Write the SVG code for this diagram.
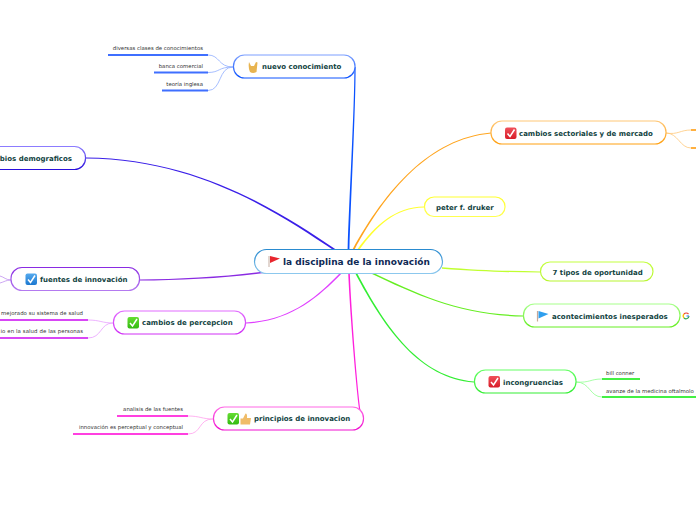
<svg xmlns="http://www.w3.org/2000/svg" width="696" height="520" viewBox="0 0 696 520">
<style>
.n{fill:#fff;stroke-width:1.2}
.t{font-family:"DejaVu Sans",sans-serif;font-weight:700;font-size:7px;fill:#12433f}
.c{font-family:"DejaVu Sans",sans-serif;font-weight:700;font-size:9px;fill:#0f2a55}
.l{font-family:"DejaVu Sans",sans-serif;font-size:5.4px;fill:#333}
.s{fill:none;stroke-width:.8}
.b{fill:none;stroke-width:2}
.ck{fill:none;stroke:#fff;stroke-width:1.5}
</style>
<defs>
<linearGradient id="gc" x1="0" y1="0" x2="0" y2="1"><stop offset="0" stop-color="#2a8bd0"/><stop offset="1" stop-color="#8cc8ee"/></linearGradient>
<linearGradient id="g1" x1="0" y1="0" x2="0" y2="1"><stop offset="0" stop-color="#7da0ff"/><stop offset="1" stop-color="#0b52ff"/></linearGradient>
<linearGradient id="g2" x1="0" y1="0" x2="0" y2="1"><stop offset="0" stop-color="#8c7cff"/><stop offset="1" stop-color="#2a0fdc"/></linearGradient>
<linearGradient id="g3" x1="0" y1="0" x2="0" y2="1"><stop offset="0" stop-color="#8a2be2"/><stop offset="1" stop-color="#b47af0"/></linearGradient>
<linearGradient id="g4" x1="0" y1="0" x2="0" y2="1"><stop offset="0" stop-color="#e26cff"/><stop offset="1" stop-color="#d030f5"/></linearGradient>
<linearGradient id="g5" x1="0" y1="0" x2="0" y2="1"><stop offset="0" stop-color="#ff6ae6"/><stop offset="1" stop-color="#f010d0"/></linearGradient>
<linearGradient id="g6" x1="0" y1="0" x2="0" y2="1"><stop offset="0" stop-color="#ffc878"/><stop offset="1" stop-color="#ffa010"/></linearGradient>
<linearGradient id="g7" x1="0" y1="0" x2="0" y2="1"><stop offset="0" stop-color="#ffff30"/><stop offset="1" stop-color="#ffff50"/></linearGradient>
<linearGradient id="g8" x1="0" y1="0" x2="0" y2="1"><stop offset="0" stop-color="#c4ff40"/><stop offset="1" stop-color="#b8f530"/></linearGradient>
<linearGradient id="g9" x1="0" y1="0" x2="0" y2="1"><stop offset="0" stop-color="#a8ff8c"/><stop offset="1" stop-color="#66ee22"/></linearGradient>
<linearGradient id="g10" x1="0" y1="0" x2="0" y2="1"><stop offset="0" stop-color="#66ff66"/><stop offset="1" stop-color="#33ee33"/></linearGradient>
<linearGradient id="red" x1="0" y1="0" x2="0" y2="1"><stop offset="0" stop-color="#f0505a"/><stop offset="1" stop-color="#d81c28"/></linearGradient>
<linearGradient id="grn" x1="0" y1="0" x2="0" y2="1"><stop offset="0" stop-color="#66dd33"/><stop offset="1" stop-color="#33bb11"/></linearGradient>
<linearGradient id="blu" x1="0" y1="0" x2="0" y2="1"><stop offset="0" stop-color="#55aaee"/><stop offset="1" stop-color="#1c78d0"/></linearGradient>
</defs>
<g id="connectors">
<path fill="#0b52ff" d="M354.400,67 C354.400,110 349,200 347.600,250 L349.400,250 C350.800,200 355.600,110 355.600,67Z"/>
<path fill="#3a1fe8" d="M86,157.400 C200,158.400 281.500,213.200 335.500,249.200 L334.500,250.800 C280.500,214.800 200,159.600 86,158.600Z"/>
<path fill="#8a2be2" d="M140,279.400 C180,279.400 230,276.300 266,271.200 L266,272.800 C230,277.700 180,280.600 140,280.600Z"/>
<path fill="#e040ff" d="M246,322.400 C290,319.900 315.500,298.500 341.400,271.400 L342.600,272.600 C316.500,299.500 290,321.100 246,323.600Z"/>
<path fill="#ff20dc" d="M359.400,410 C356.900,395 350.300,320 348.200,273 L349.800,273 C351.700,320 358.100,395 360.600,410Z"/>
<path fill="#ffa51e" d="M491,132.400 C430,137.900 385.400,189.600 352.500,249.600 L354.100,250.400 C386.600,190.400 430,139.100 491,133.600Z"/>
<path fill="#ffff30" d="M424,206.400 C395,206.900 375.400,225.100 357.200,249.400 L358.800,250.600 C376.600,225.900 395,208.100 424,207.600Z"/>
<path fill="#c0ff30" d="M540,271.400 C510,271.100 480,270.300 442,267.200 L442,268.800 C480,271.700 510,272.300 540,272.600Z"/>
<path fill="#66ee22" d="M523,315.400 C460,313.900 420.300,295.400 370.100,271.200 L369.300,272.800 C419.700,296.600 460,315.100 523,316.600Z"/>
<path fill="#33ee33" d="M474,381.400 C420,376.900 386.600,329.500 356.100,271.200 L354.500,272 C385.400,330.500 420,378.100 474,382.600Z"/>
<g stroke="#8fadff" class="s"><path d="M208,55 C220,55 218,67 233,67"/><path d="M208,72.500 C220,72.500 218,67 233,67"/><path d="M208,90.500 C222,90.500 218,67 233,67"/></g>
<g stroke="#3f6fff" class="b"><path d="M108,55H208"/><path d="M154,72.500H208"/><path d="M162,90.500H208"/></g>
<g stroke="#c090f0" class="s"><path d="M11,280 C6,280 4,277 0,276"/><path d="M11,280 C6,280 4,282 0,283"/></g>
<g stroke="#e8a0ff" class="s"><path d="M88,320 C100,320 102,323 113,323"/><path d="M88,338 C102,338 100,323 113,323"/></g>
<g stroke="#d846f5" class="b"><path d="M0,320H88"/><path d="M0,338H88"/></g>
<g stroke="#ffa0ec" class="s"><path d="M188,416 C200,416 202,419 213,419"/><path d="M188,434 C202,434 198,419 213,419"/></g>
<g stroke="#ff40e0" class="b"><path d="M117,416H188"/><path d="M73,434H188"/></g>
<g stroke="#ffc878" class="s"><path d="M666,133 C678,135 680,130 691,130"/><path d="M666,133 C678,133 680,148 691,148"/></g>
<g stroke="#ffb040" class="b"><path d="M691,130H696"/><path d="M691,148H696"/></g>
<g stroke="#90ff90" class="s"><path d="M576,382 C590,383 590,379 602,379"/><path d="M576,382 C590,382 590,397 602,397"/></g>
<g stroke="#44f044" class="b"><path d="M602,379H640"/><path d="M602,397H696"/></g>
</g>
<g id="node-center"><rect class="n" x="254.500" y="249.500" width="188" height="24" rx="12" stroke="url(#gc)"/>
<path d="M269,256V267" stroke="#d8c8c0" stroke-width="1.500"/><path d="M270,256L280,258.500L270,263Z" fill="#e8262e"/>
<text class="c" x="283" y="265">la disciplina de la innovación</text></g>
<g id="node-nuevo"><rect class="n" x="233.500" y="55" width="121.500" height="23" rx="11" stroke="url(#g1)"/>
<path d="M249,62L251,66L254,66L256,62L257.500,62.500L256.500,72Q253,74 250,72Q248,68 249,62Z" fill="#e8b450"/>
<text class="t" x="262" y="69">nuevo conocimiento</text></g>
<g id="node-demograficos"><rect class="n" x="-60" y="146.500" width="145.500" height="23" rx="11" stroke="url(#g2)"/>
<text class="t" x="72" y="160.500" text-anchor="end">bios demograficos</text></g>
<g id="node-fuentes"><rect class="n" x="11" y="267.500" width="128.500" height="23" rx="11" stroke="url(#g3)"/>
<rect x="25.500" y="273.500" width="11.500" height="11.500" rx="2" fill="url(#blu)"/><path class="ck" d="M28,279.500L30.500,282.500L35,275.500"/>
<text class="t" x="40" y="282">fuentes de innovación</text></g>
<g id="node-percepcion"><rect class="n" x="113.500" y="311" width="132" height="23" rx="11" stroke="url(#g4)"/>
<rect x="127.500" y="317" width="11.500" height="11.500" rx="2" fill="url(#grn)"/><path class="ck" d="M130,323L132.500,326L137,319"/>
<text class="t" x="142" y="325">cambios de percepcion</text></g>
<g id="node-principios"><rect class="n" x="213.500" y="407" width="150" height="23" rx="11" stroke="url(#g5)"/>
<rect x="227.500" y="413" width="11.500" height="11.500" rx="2" fill="url(#grn)"/><path class="ck" d="M230,419L232.500,422L237,415"/>
<path d="M240.500,418.500H243L245.500,413.500Q247.500,413.500 247,418H251L250,424.500H240.500Z" fill="#f0bc68"/>
<text class="t" x="254" y="421">principios de innovacion</text></g>
<g id="node-sectoriales"><rect class="n" x="491" y="121" width="175" height="23" rx="11" stroke="url(#g6)"/>
<rect x="505" y="127.500" width="11.500" height="11.500" rx="2" fill="url(#red)"/><path class="ck" d="M507.500,133.500L510,136.500L514.500,129.500"/>
<text class="t" x="519" y="136">cambios sectoriales y de mercado</text></g>
<g id="node-peter"><rect class="n" x="424.500" y="197" width="80.500" height="19.500" rx="9.500" stroke="url(#g7)"/>
<text class="t" x="436" y="209.500">peter f. druker</text></g>
<g id="node-tipos"><rect class="n" x="540.500" y="262" width="112.500" height="19" rx="9.500" stroke="url(#g8)"/>
<text class="t" x="552.500" y="274.500">7 tipos de oportunidad</text></g>
<g id="node-acontecimientos"><rect class="n" x="523.500" y="304" width="156.500" height="23" rx="11" stroke="url(#g9)"/>
<path d="M537.500,311V321.500" stroke="#c8a898" stroke-width="1.200"/><path d="M538.500,311L548.500,314L538.500,318.500Z" fill="#2f9fee"/>
<text class="t" x="552" y="318.500">acontecimientos inesperados</text></g>
<g id="icon-google"><path d="M688.500,314A3,3 0 0 0 684,314" fill="none" stroke="#ea4335" stroke-width="1.200"/><path d="M684,314A3,3 0 0 0 684,318" fill="none" stroke="#fbbc05" stroke-width="1.200"/><path d="M684,318A3,3 0 0 0 689,316" fill="none" stroke="#34a853" stroke-width="1.200"/><path d="M689,316H686.500" fill="none" stroke="#4285f4" stroke-width="1.200"/></g>
<g id="node-incongruencias"><rect class="n" x="474.500" y="370" width="101.500" height="23" rx="11" stroke="url(#g10)"/>
<rect x="488.500" y="376" width="11.500" height="11.500" rx="2" fill="url(#red)"/><path class="ck" d="M491,382L493.500,385L498,378"/>
<text class="t" x="503" y="385">incongruencias</text></g>
<g id="leaves">
<text class="l" x="203" y="50" text-anchor="end">diversas clases de conocimientos</text>
<text class="l" x="203" y="68" text-anchor="end">banca comercial</text>
<text class="l" x="203" y="86" text-anchor="end">teoría inglesa</text>
<text class="l" x="1" y="315" textLength="82">mejorado su sistema de salud</text>
<text class="l" x="0.500" y="333" textLength="82.500">io en la salud de las personas</text>
<text class="l" x="183" y="411" text-anchor="end">analisis de las fuentes</text>
<text class="l" x="183" y="429" text-anchor="end">innovación es perceptual y conceptual</text>
<text class="l" x="606" y="375">bill conner</text>
<text class="l" x="606" y="393">avanze de la medicina oftalmolo</text>
</g>
</svg>
